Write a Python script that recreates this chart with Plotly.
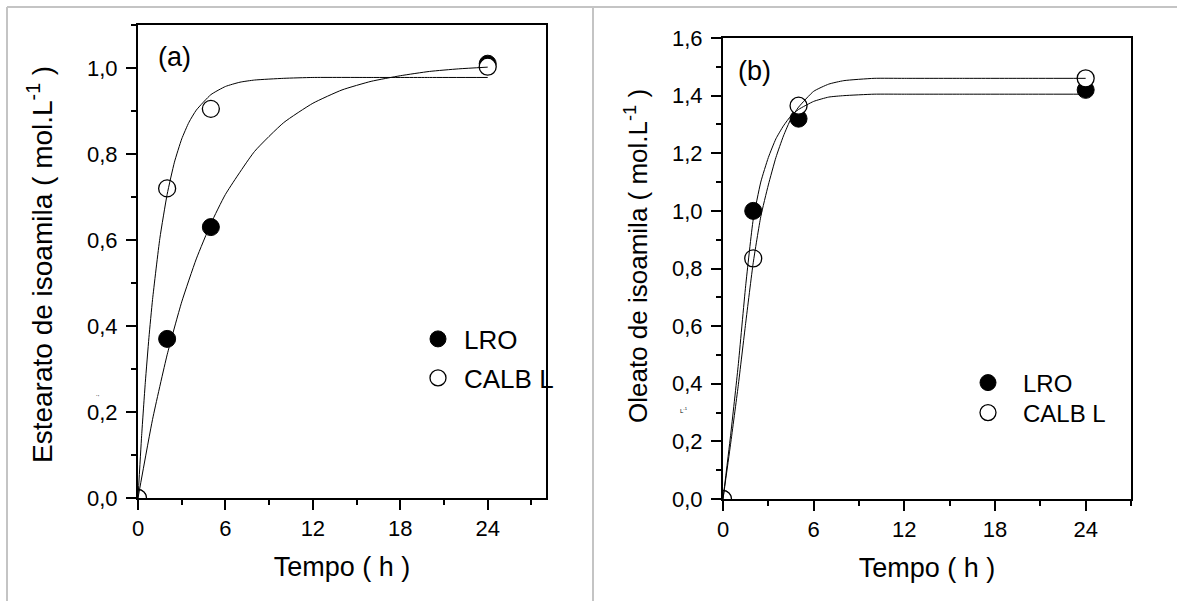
import plotly.graph_objects as go

W, H = 1177, 601

# ---------------- data ----------------
t_points = [0, 2, 5, 24]

# panel (a) – Estearato de isoamila
a_lro = [0.0, 0.37, 0.63, 1.01]
a_calb = [0.0, 0.72, 0.905, 1.003]
a_fit_t_lro = [0, 1, 2, 3, 4, 5, 6, 8, 10, 12, 14, 16, 18, 20, 22, 24]
a_fit_lro = [0, 0.183, 0.333, 0.456, 0.556, 0.638, 0.706, 0.806, 0.873, 0.918,
             0.949, 0.969, 0.982, 0.992, 0.998, 1.002]
a_fit_t_calb = [0, 0.25, 0.5, 0.75, 1, 1.5, 2, 2.5, 3, 3.5, 4, 5, 6, 7, 8, 10, 12, 16, 20, 24]
a_fit_calb = [0, 0.145, 0.268, 0.373, 0.462, 0.604, 0.706, 0.781, 0.835, 0.874,
              0.902, 0.938, 0.957, 0.967, 0.972, 0.976, 0.978, 0.978, 0.978, 0.978]

# panel (b) – Oleato de isoamila
b_lro = [0.0, 1.0, 1.32, 1.42]
b_calb = [0.0, 0.835, 1.365, 1.46]
b_fit_t = [0, 0.5, 1, 1.5, 2, 2.5, 3, 3.5, 4, 4.5, 5, 6, 7, 8, 10, 12, 16, 20, 24]
b_fit_lro = [0, 0.22, 0.46, 0.74, 0.97, 1.10, 1.185, 1.25, 1.295, 1.33, 1.352,
             1.38, 1.395, 1.40, 1.405, 1.405, 1.405, 1.405, 1.405]
b_fit_calb = [0, 0.19, 0.39, 0.61, 0.82, 0.98, 1.09, 1.185, 1.26, 1.32, 1.36,
              1.415, 1.44, 1.452, 1.46, 1.46, 1.46, 1.46, 1.46]

series_names = ["LRO", "CALB L"]
x_ticks = [0, 6, 12, 18, 24]
x_title = "Tempo ( h )"
y_title_a = "Estearato de isoamila ( mol.L<sup>-1</sup> )"
y_title_b = "Oleato de isoamila ( mol.L<sup>-1</sup> )"

FONT = "Liberation Sans, Arial, sans-serif"

fig = go.Figure()

def add_panel(xa, ya, legs, lro, calb, fits):
    fig.add_trace(go.Scatter(x=t_points, y=lro, mode="markers", name=series_names[0],
                             xaxis=xa, yaxis=ya, legend=legs[0],
                             marker=dict(symbol="circle", size=17, color="black",
                                         line=dict(color="black", width=1))))
    fig.add_trace(go.Scatter(x=t_points, y=calb, mode="markers", name=series_names[1],
                             xaxis=xa, yaxis=ya, legend=legs[1],
                             marker=dict(symbol="circle", size=17, color="white",
                                         line=dict(color="black", width=1.3))))
    for (ft, fy) in fits:
        fig.add_trace(go.Scatter(x=ft, y=fy, mode="lines", xaxis=xa, yaxis=ya,
                                 line=dict(color="black", width=1, shape="spline", smoothing=0.5),
                                 showlegend=False, hoverinfo="skip"))

add_panel("x", "y", ("legend", "legend2"), a_lro, a_calb,
          [(a_fit_t_lro, a_fit_lro), (a_fit_t_calb, a_fit_calb)])
add_panel("x2", "y2", ("legend3", "legend4"), b_lro, b_calb,
          [(b_fit_t, b_fit_lro), (b_fit_t, b_fit_calb)])

def px_x(p):
    return p / W

def px_y(p):
    return 1 - p / H

axis_common = dict(
    showline=True, linecolor="black", linewidth=2, mirror=True,
    ticks="outside", ticklen=10, tickwidth=2, tickcolor="black",
    showgrid=False, zeroline=False, automargin=False,
    tickfont=dict(family=FONT, size=22, color="black"),
)
TITLE_SIZE = 27

def leg(xc, yc, size, iw):
    return dict(x=px_x(xc - iw / 2 - 4), y=px_y(yc), xanchor="left", yanchor="middle",
                bgcolor="rgba(0,0,0,0)", itemwidth=iw,
                font=dict(family=FONT, size=size, color="black"))

fig.update_layout(
    template="none",
    width=W, height=H,
    margin=dict(l=0, r=0, t=0, b=0, pad=0),
    paper_bgcolor="white", plot_bgcolor="white",
    separators=",.",
    font=dict(family=FONT, color="black"),
    xaxis=dict(domain=[px_x(138), px_x(546)], range=[0, 28], anchor="y",
               tickvals=x_ticks,
               minor=dict(ticks="outside", ticklen=5, tickwidth=2, tickcolor="black", dtick=3, tick0=3),
               title=dict(text=x_title, font=dict(size=TITLE_SIZE), standoff=17),
               **axis_common),
    yaxis=dict(domain=[px_y(498), px_y(25)], range=[0, 1.1], anchor="x",
               dtick=0.2, tick0=0, tickformat=".1f", ticklabelstandoff=4,
               minor=dict(ticks="outside", ticklen=5, tickwidth=2, tickcolor="black", dtick=0.1),
               **axis_common),
    xaxis2=dict(domain=[px_x(723), px_x(1131)], range=[0, 27], anchor="y2",
                tickvals=x_ticks,
                minor=dict(ticks="outside", ticklen=5, tickwidth=2, tickcolor="black", dtick=3, tick0=3),
                title=dict(text=x_title, font=dict(size=TITLE_SIZE), standoff=17),
                **axis_common),
    yaxis2=dict(domain=[px_y(499), px_y(38)], range=[0, 1.6], anchor="x2",
                dtick=0.2, tick0=0, tickformat=".1f", ticklabelstandoff=4,
                minor=dict(ticks="outside", ticklen=5, tickwidth=2, tickcolor="black", dtick=0.1),
                **axis_common),
    legend=leg(437, 339, 26, 42),
    legend2=leg(437, 378, 26, 42),
    legend3=leg(987, 383, 24, 60),
    legend4=leg(987, 413, 24, 60),
)

# y-axis titles (placed as in the original, slightly off-centre)
fig.add_annotation(x=px_x(40), y=px_y(265), xref="paper", yref="paper", text=y_title_a,
                   textangle=-90, xanchor="center", yanchor="middle", showarrow=False,
                   font=dict(family=FONT, size=28, color="black"))
fig.add_annotation(x=px_x(636), y=px_y(256), xref="paper", yref="paper", text=y_title_b,
                   textangle=-90, xanchor="center", yanchor="middle", showarrow=False,
                   font=dict(family=FONT, size=26, color="black"))

# panel labels
fig.add_annotation(x=px_x(175), y=px_y(57), xref="paper", yref="paper", text="(a)",
                   xanchor="center", yanchor="middle",
                   showarrow=False, font=dict(family=FONT, size=27, color="black"))
fig.add_annotation(x=px_x(755), y=px_y(71), xref="paper", yref="paper", text="(b)",
                   xanchor="center", yanchor="middle",
                   showarrow=False, font=dict(family=FONT, size=27, color="black"))
# tiny stray marks in the original
fig.add_annotation(x=px_x(97), y=px_y(397), xref="paper", yref="paper", text="´'",
                   xanchor="center", yanchor="middle",
                   showarrow=False, font=dict(family=FONT, size=6, color="black"))
fig.add_annotation(x=px_x(684), y=px_y(410), xref="paper", yref="paper", text="L<sup>-1</sup>",
                   xanchor="center", yanchor="middle",
                   showarrow=False, font=dict(family=FONT, size=6, color="black"))

# gray frame lines
frame = dict(color="#c4c4c4", width=2)
fig.add_shape(type="line", xref="paper", yref="paper", x0=px_x(7), x1=1, y0=px_y(7), y1=px_y(7), line=frame)
fig.add_shape(type="line", xref="paper", yref="paper", x0=px_x(7), x1=px_x(7), y0=0, y1=px_y(7), line=frame)
fig.add_shape(type="line", xref="paper", yref="paper", x0=px_x(593), x1=px_x(593), y0=0, y1=px_y(7), line=frame)

fig.write_html("out.html")
